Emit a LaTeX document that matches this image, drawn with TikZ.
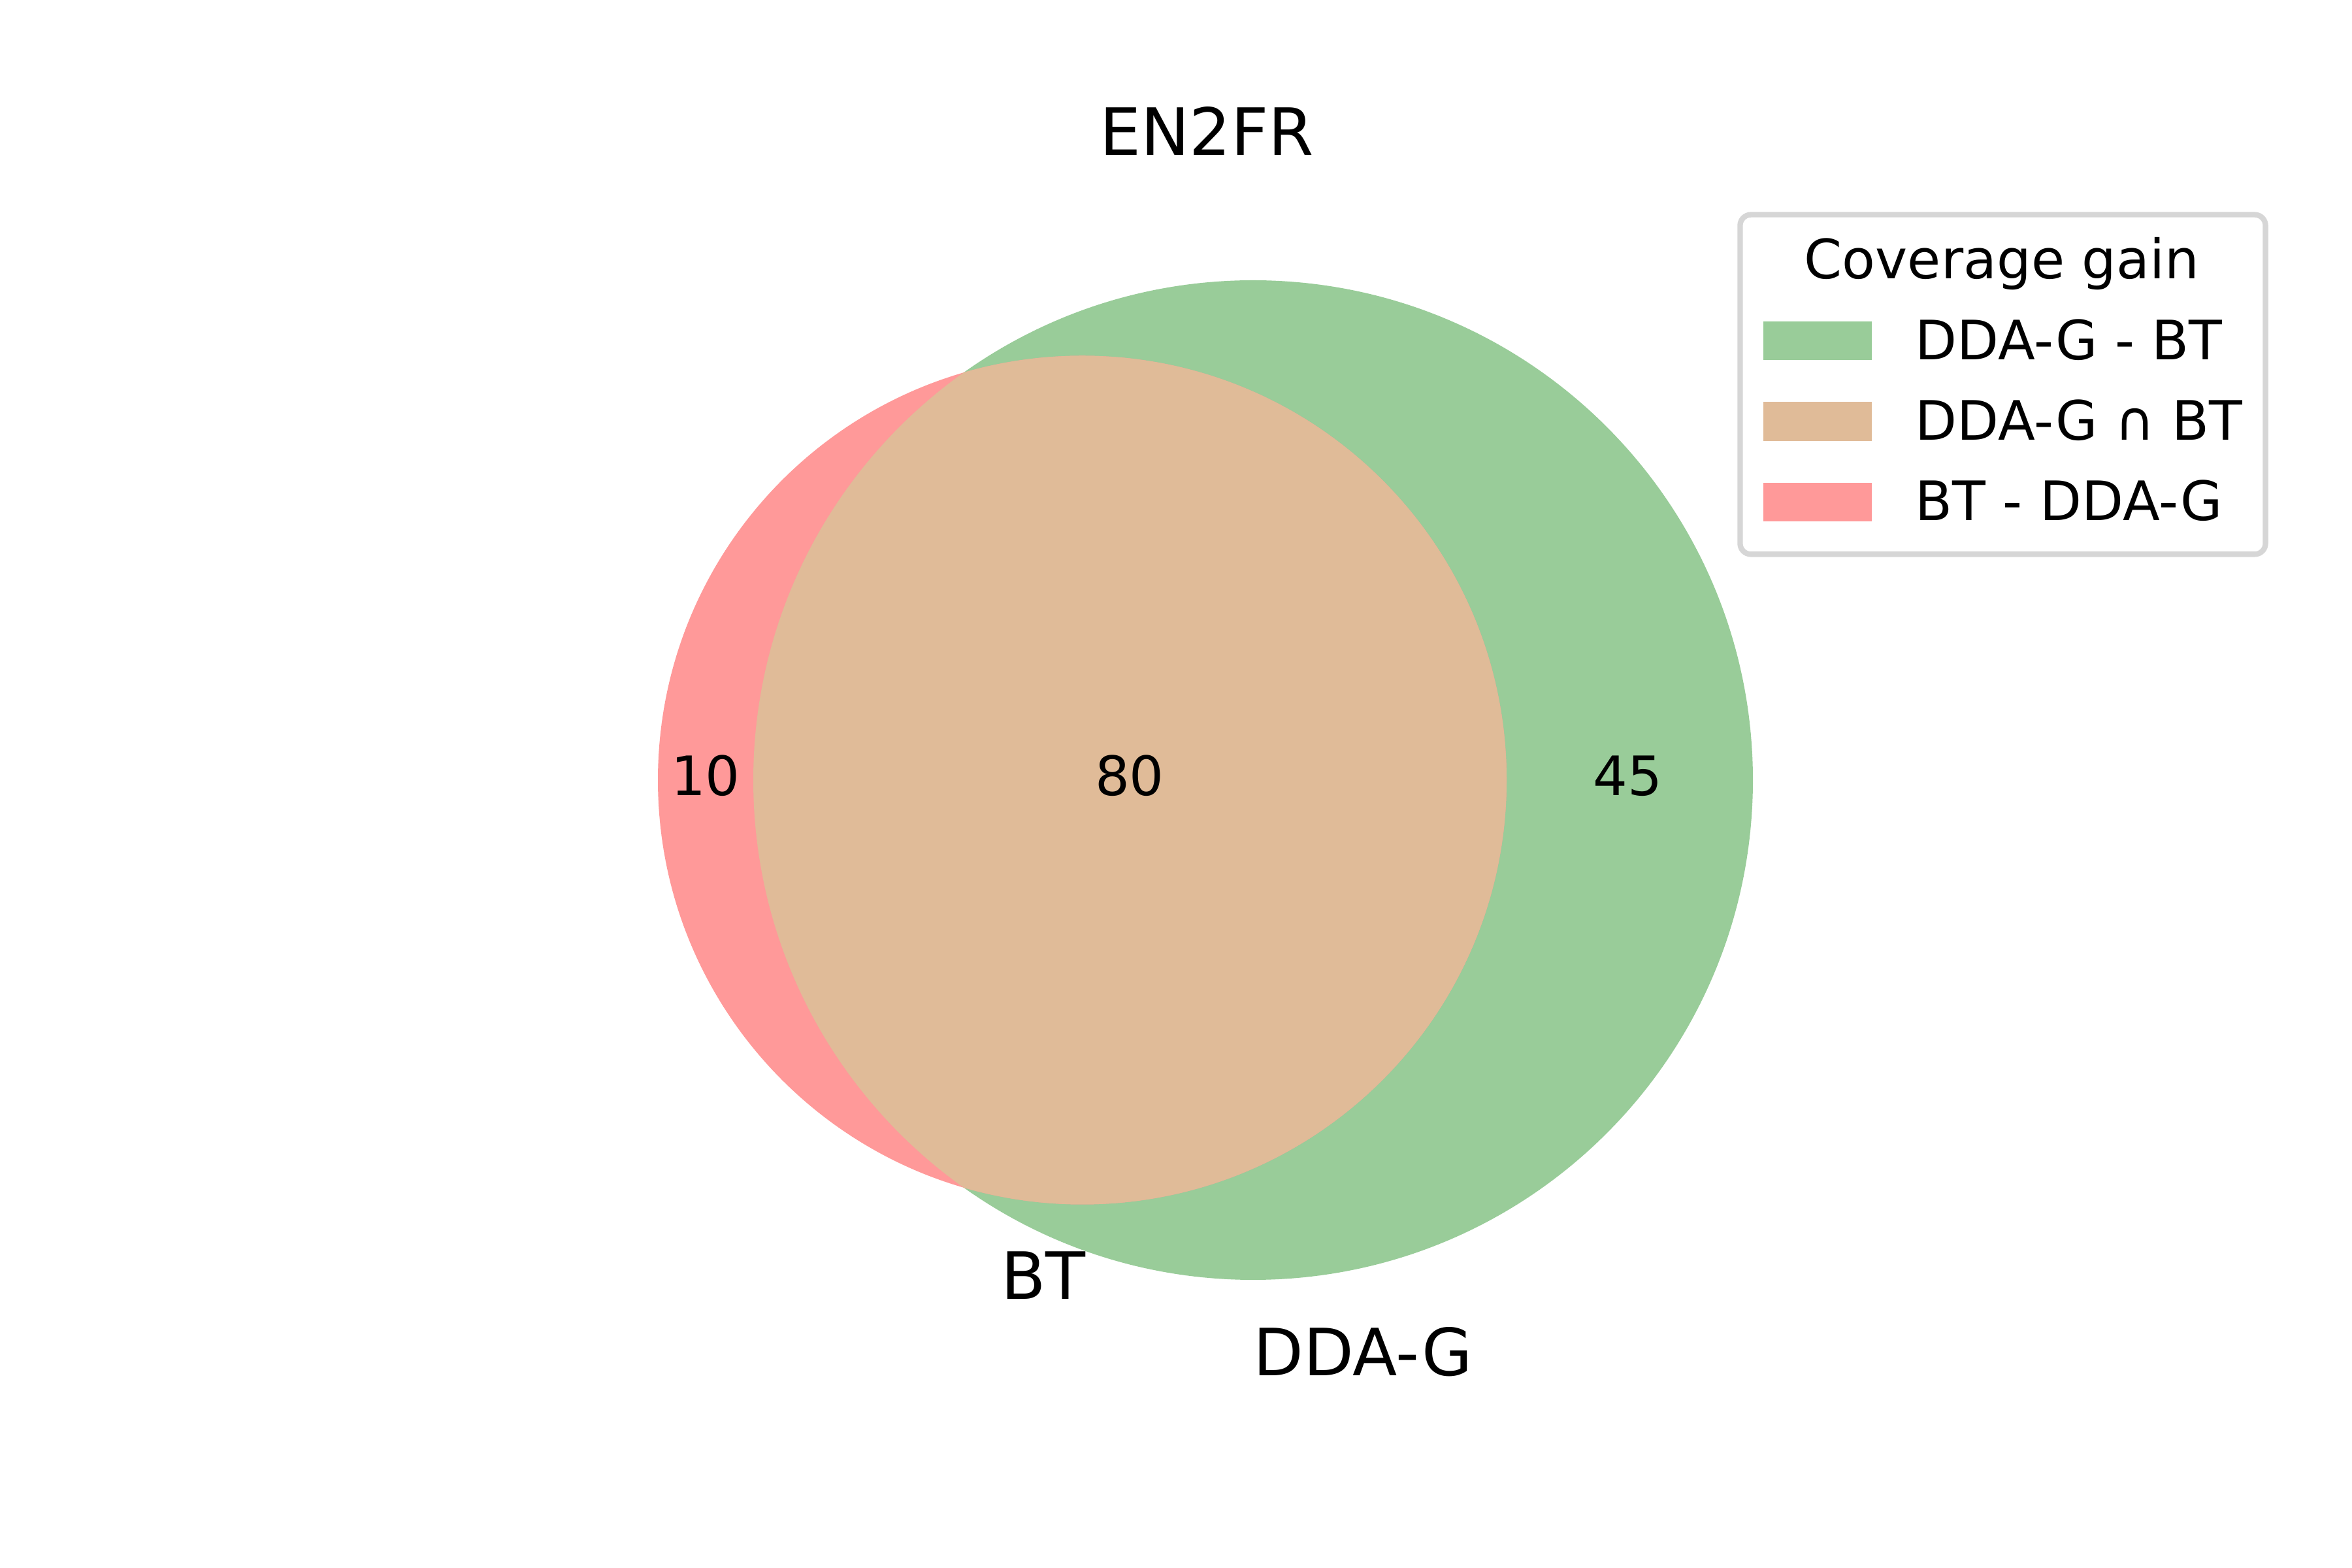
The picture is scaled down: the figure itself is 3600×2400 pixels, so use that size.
\documentclass[tikz,border=0pt]{standalone}
\usepackage{fontspec}
\setmainfont{DejaVu Sans}
\definecolor{vred}{HTML}{FF9999}
\definecolor{vgreen}{HTML}{99CC99}
\definecolor{vmix}{HTML}{E0BB98}
\definecolor{legedge}{HTML}{D6D6D6}
\begin{document}
\begin{tikzpicture}[x=0.00423333cm, y=-0.00423333cm,
  num/.style={inner sep=0pt, anchor=base, font=\fontsize{10}{12}\selectfont},
  setlbl/.style={inner sep=0pt, anchor=base, font=\fontsize{12}{14}\selectfont},
  legtxt/.style={inner sep=0pt, anchor=base west, font=\fontsize{10}{12}\selectfont},
  patch/.style={inner sep=0pt, outer sep=0pt, minimum width=0.7027cm, minimum height=0.2498cm},
  legbox/.style={draw=legedge, line width=1pt, rounded corners=2pt, fill=white, inner sep=0pt, outer sep=0pt, minimum width=3.399cm, minimum height=2.197cm}]
\useasboundingbox (0,0) rectangle (3600,2400);
% circles
\fill[vgreen] (1918,1194) circle[radius=765];
\fill[vred] (1656.5,1194) circle[radius=649.5];
\begin{scope}
  \clip (1918,1194) circle[radius=765];
  \fill[vmix] (1656.5,1194) circle[radius=649.5];
\end{scope}
% title
\node[setlbl] (title) at (1847,238) {EN2FR};
% region counts
\node[num] (n10) at (1080,1218) {10};
\node[num] (n80) at (1729,1218) {80};
\node[num] (n45) at (2491,1218) {45};
% set labels
\node[setlbl] (lbt) at (1597,1989) {BT};
\node[setlbl] (ldda) at (2086,2106) {DDA-G};
% legend
\node[legbox] (legend) at (3065.5,588.5) {};
\node[inner sep=0pt, anchor=base, font=\fontsize{10}{12}\selectfont] (legtitle) at (3064,427) {Coverage gain};
\node[patch, fill=vgreen] (p1) at (2782,521.5) {};
\node[patch, fill=vmix] (p2) at (2782,645) {};
\node[patch, fill=vred] (p3) at (2782,768.5) {};
\node[legtxt] (t1) at (2930,551) {DDA-G - BT};
\node[legtxt] (t2) at (2930,674) {DDA-G ∩ BT};
\node[legtxt] (t3) at (2930,797) {BT - DDA-G};
\end{tikzpicture}
\end{document}
